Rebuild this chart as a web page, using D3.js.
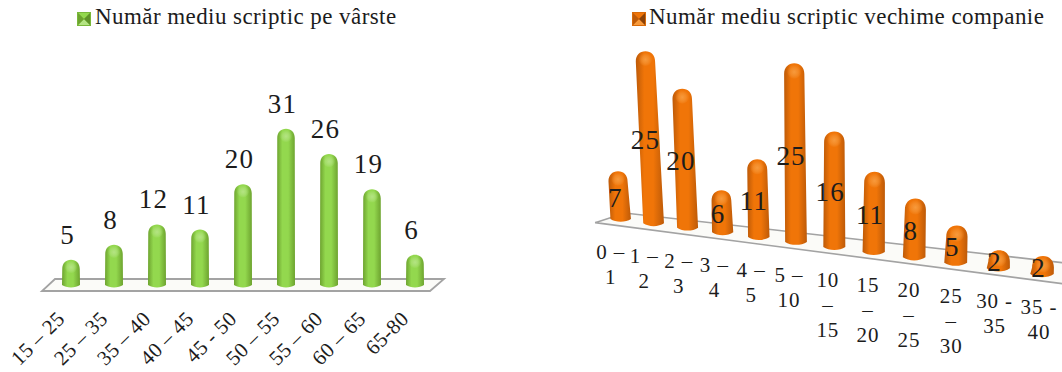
<!DOCTYPE html>
<html>
<head>
<meta charset="utf-8">
<script src="https://cdn.jsdelivr.net/npm/d3@7/dist/d3.min.js"></script>
<style>
html,body{margin:0;padding:0;background:#fff;overflow:hidden}
svg{display:block}
text{font-family:"Liberation Serif",serif;fill:#1c1c1c}
</style>
</head>
<body>
<svg id="c" width="1062" height="372"></svg>
<script>
// Average scriptic headcount by age band
const ageTitle = "Număr mediu scriptic pe vârste";
const ageCategories = ["15 – 25","25 – 35","35 – 40","40 – 45","45 - 50","50 – 55","55 – 60","60 – 65","65-80"];
const ageValues = [5,8,12,11,20,31,26,19,6];

// Average scriptic headcount by company tenure (labels wrap over several lines)
const tenureTitle = "Număr mediu scriptic vechime companie";
const tenureCategories = [["0 –","1"],["1 –","2"],["2 –","3"],["3 –","4"],["4 –","5"],["5 –","10"],
  ["10","–","15"],["15","–","20"],["20","–","25"],["25","–","30"],["30 -","35"],["35 -","40"]];
const tenureValues = [7,25,20,6,11,25,16,11,8,5,2,2];

const greenTheme = {id:"g", edge:"#6da32f", mid:"#93d84e", light:"#b4e483", dark:"#5f9328", base:"#79b83a"};
const orangeTheme = {id:"o", edge:"#bd5a08", mid:"#f07508", light:"#f79a3c", dark:"#8a4208", base:"#d96a08"};

const svg = d3.select("#c");
const defs = svg.append("defs");

[greenTheme, orangeTheme].forEach(t => {
  const body = defs.append("linearGradient").attr("id", "body-" + t.id);
  [[0,t.edge],[.3,t.mid],[.62,t.mid],[1,t.edge]].forEach(([o,c]) =>
    body.append("stop").attr("offset", o).attr("stop-color", c));
  const cap = defs.append("radialGradient").attr("id", "cap-" + t.id)
    .attr("cx", .5).attr("cy", .55).attr("r", .5);
  cap.append("stop").attr("offset", 0).attr("stop-color", t.light);
  cap.append("stop").attr("offset", .55).attr("stop-color", t.light).attr("stop-opacity", .55);
  cap.append("stop").attr("offset", 1).attr("stop-color", t.light).attr("stop-opacity", 0);
});

// A rounded cylinder standing on (bx,by) with its crown at (tx,ty)
function cylinder(g, theme, bx, by, tx, ty, wb, wt) {
  const p = d3.path();
  const r = wt / 2, dome = r * 1.05, k = 0.6, foot = wb * 0.14;
  p.moveTo(bx - wb / 2, by);
  p.lineTo(tx - r, ty + dome);
  p.bezierCurveTo(tx - r, ty + dome * (1 - k), tx - r * k, ty, tx, ty);
  p.bezierCurveTo(tx + r * k, ty, tx + r, ty + dome * (1 - k), tx + r, ty + dome);
  p.lineTo(bx + wb / 2, by);
  p.bezierCurveTo(bx + wb / 4, by + foot * 1.3, bx - wb / 4, by + foot * 1.3, bx - wb / 2, by);
  p.closePath();
  g.append("path").attr("d", p.toString()).attr("fill", "url(#body-" + theme.id + ")");
  g.append("ellipse").attr("cx", tx).attr("cy", ty + dome * .75)
    .attr("rx", r * .72).attr("ry", dome * .7).attr("fill", "url(#cap-" + theme.id + ")");
}

// Legend key: a small bevelled square followed by the series name
function legend(theme, x, y, size, title, textX, baseline, fontSize) {
  const g = svg.append("g");
  g.append("rect").attr("x", x).attr("y", y).attr("width", size).attr("height", size).attr("fill", theme.base);
  const c = [x + size / 2, y + size / 2];
  const tri = (a, b, fill) => g.append("path")
    .attr("d", d3.line()([a, b, c])).attr("fill", fill);
  const nw = [x + 1, y + 1], ne = [x + size - 1, y + 1], se = [x + size - 1, y + size - 1], sw = [x + 1, y + size - 1];
  tri(nw, ne, theme.mid);
  tri(sw, se, theme.light);
  tri(ne, se, theme.dark);
  tri(nw, sw, theme.edge);
  svg.append("text").attr("x", textX).attr("y", baseline).attr("font-size", fontSize)
    .attr("letter-spacing", .43).text(title);
}

// ---- Left chart: flat view ----
(function ageChart() {
  const x = d3.scalePoint().domain(ageCategories).range([71, 415]);
  const y = d3.scaleLinear().domain([0, 31]).range([285, 128.7]);
  const first = x(ageCategories[0]), last = x(ageCategories[ageCategories.length - 1]);
  const floor = [[first - 29, y(0) + 6], [last + 15, y(0) + 6], [last + 29, y(0) - 6], [first - 16, y(0) - 6]];
  svg.append("path").attr("d", d3.line().curve(d3.curveLinearClosed)(floor))
    .attr("fill", "#fbfbf8").attr("stroke", "#a3a3a3").attr("stroke-width", 1.8);

  const bars = svg.append("g");
  ageCategories.forEach((c, i) => {
    cylinder(bars, greenTheme, x(c), y(0), x(c), y(ageValues[i]), 18, 17.5);
  });

  ageCategories.forEach((c, i) => {
    svg.append("text").attr("x", x(c) - 3.5).attr("y", y(ageValues[i]) - 16)
      .attr("text-anchor", "middle").attr("font-size", 27).attr("letter-spacing", 1.2)
      .text(ageValues[i]);
    svg.append("text")
      .attr("transform", `translate(${x(c) - 5},${y(0) + 35}) rotate(-45)`)
      .attr("text-anchor", "end").attr("font-size", 21).attr("letter-spacing", .4)
      .text(c);
  });
  legend(greenTheme, 77, 12, 14, ageTitle, 95, 24, 23);
})();

// ---- Right chart: perspective view, bars grow toward the viewer on the right ----
(function tenureChart() {
  const n = tenureCategories.length;
  const depth = d3.scalePow().exponent(2).domain([30, 30 + n - 1]).range([0, 1]);
  const t = i => depth(30 + i);
  const xBase = d3.scaleLinear().domain([0, 1]).range([620.7, 1042]);
  const yBase = d3.scaleLinear().domain([0, 1]).range([219, 274]);
  const unit = d3.scaleLinear().domain([0, 1]).range([6.82, 7.6]);
  const width = d3.scaleLinear().domain([0, 1]).range([20.5, 23.5]);
  const splay = d3.scaleLinear().domain([620, 1042]).range([-214 / 3800, 208 / 3800]);
  const minHeight = 18;   // the crown keeps a short bar from collapsing

  const bx = i => xBase(t(i)), by = i => yBase(t(i));
  const barHeight = i => Math.max(tenureValues[i] * unit(t(i)), minHeight);
  const floor = [
    [bx(-0.8), by(-0.8) + 7],
    [bx(12), by(12) + 7],
    [bx(12) + 4, by(12) - 14],
    [bx(0) + 4, by(0) - 6]
  ];
  svg.append("path").attr("d", d3.line().curve(d3.curveLinearClosed)(floor))
    .attr("fill", "#fbfbf8").attr("stroke", "#a3a3a3").attr("stroke-width", 1.6);

  const bars = svg.append("g");
  tenureValues.forEach((v, i) => {
    const h = barHeight(i);
    const w = width(t(i));
    const tx = bx(i) + h * splay(bx(i));
    cylinder(bars, orangeTheme, bx(i), by(i), tx, by(i) - h, w, w * .93);
  });

  tenureValues.forEach((v, i) => {
    const h = barHeight(i);
    const mx = bx(i) + h * splay(bx(i)) / 2;
    svg.append("text").attr("x", mx - 4).attr("y", by(i) - h / 2 + 12)
      .attr("text-anchor", "middle").attr("font-size", 27).attr("letter-spacing", 1.2)
      .text(v);
  });

  tenureCategories.forEach((lines, i) => {
    const lx = bx(i) - 10 + t(i) * 7;
    const g = svg.append("text").attr("font-size", 21).attr("letter-spacing", .9)
      .attr("text-anchor", "middle");
    lines.forEach((s, k) => g.append("tspan")
      .attr("x", lx).attr("y", by(i) + 40 + k * 25).text(s));
  });
  legend(orangeTheme, 632, 12, 14, tenureTitle, 649, 24, 23);
})();
</script>
</body>
</html>
